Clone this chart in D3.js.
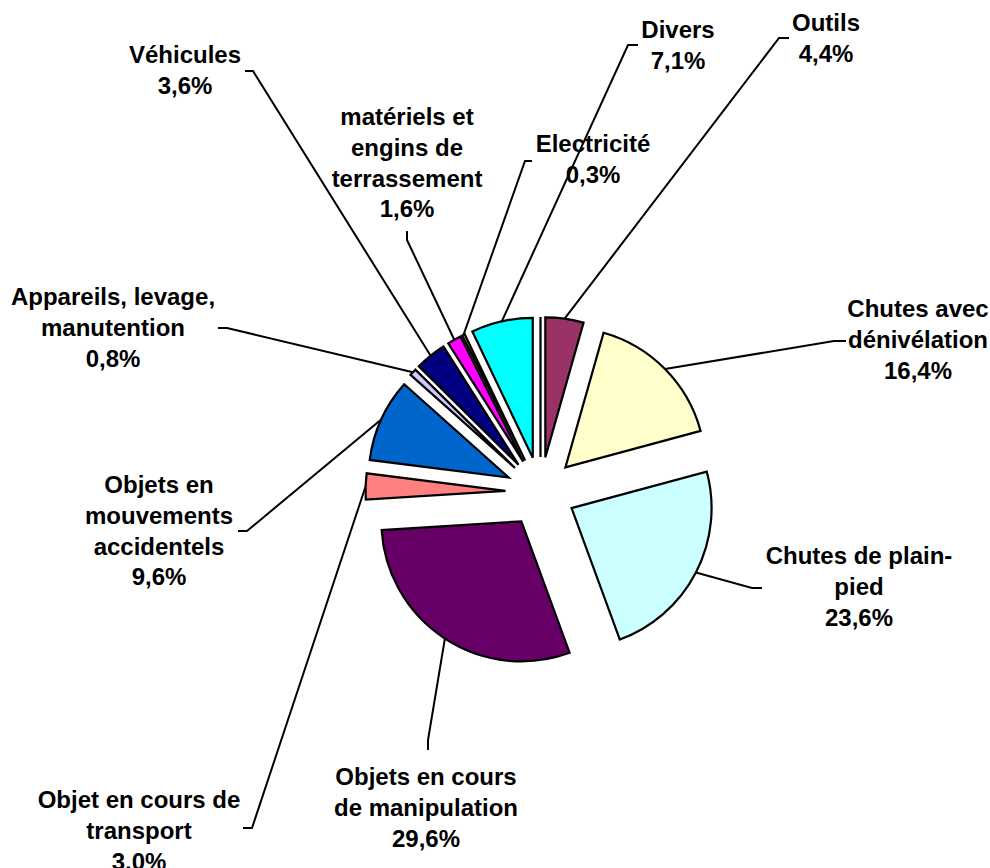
<!DOCTYPE html>
<html>
<head>
<meta charset="utf-8">
<script src="https://cdn.jsdelivr.net/npm/d3@7"></script>
<style>
    body { margin: 0; background: #fff; }
    text { font-family: "Liberation Sans", Arial, sans-serif; font-weight: bold; font-size: 24px; fill: #000; }
</style>
</head>
<body>
<script>
const width = 990,
    height = 868,
    radius = 140,
    explode = 35,
    lineHeight = 30.8;

// clockwise from 12 o'clock; the first one is the empty slice drawn as a line
const categories = [
    '', 'Outils', 'Chutes avec\ndénivélation', 'Chutes de plain-\npied',
    'Objets en cours\nde manipulation', 'Objet en cours de\ntransport',
    'Objets en\nmouvements\naccidentels', 'Appareils, levage,\nmanutention',
    'Véhicules', 'matériels et\nengins de\nterrassement', 'Electricité', 'Divers'
];
const values = [0, 4.4, 16.4, 23.6, 29.6, 3.0, 9.6, 0.8, 3.6, 1.6, 0.3, 7.1];
const colors = [
    '#9999FF', '#993366', '#FFFFCC', '#CCFFFF', '#660066', '#FF8080',
    '#0066CC', '#CCCCFF', '#000080', '#FF00FF', '#FFFF00', '#00FFFF'
];

// label placement: text centre x, first baseline, leader end and elbow
const labelPos = [
    null,
    {x: 826, y: 31, end: [789, 38], elbow: [779, 38]},
    {x: 918, y: 317, end: [846, 341], elbow: [834, 341]},
    {x: 859, y: 564, end: [762, 588], elbow: [752, 588]},
    {x: 426, y: 785, end: [428, 750], elbow: [428, 740]},
    {x: 139, y: 808, end: [243, 828], elbow: [252, 828]},
    {x: 159, y: 493, end: [238, 531], elbow: [247, 531]},
    {x: 113, y: 305, end: [218, 328], elbow: [227, 328]},
    {x: 185, y: 63, end: [245, 71], elbow: [253, 71]},
    {x: 407, y: 125, end: [407, 231], elbow: [407, 240]},
    {x: 593, y: 152, end: [532, 161], elbow: [525, 161]},
    {x: 678, y: 38, end: [638, 45], elbow: [628, 45]}
];

const cx = 540.5,
    cy = 492;

const fmt = v => d3.format('.1f')(v).replace('.', ',') + '%';

const svg = d3.select('body').append('svg')
    .attr('width', width)
    .attr('height', height)
    ;

const pie = d3.pie()
    .sort(null)
    .value(d => d)
    ;

const arc = d3.arc()
    .innerRadius(0)
    .outerRadius(radius)
    ;

const arcs = pie(values);

function midAngle(d) {
    return (d.startAngle + d.endAngle) / 2;
}

function offset(d, r) {
    const a = midAngle(d);
    return [cx + r * Math.sin(a), cy - r * Math.cos(a)];
}

svg.append('g').selectAll('path.slice')
    .data(arcs)
    .enter()
    .append('path')
    .attr('class', 'slice')
    .attr('transform', d => {
        const p = offset(d, explode);
        return 'translate(' + p[0] + ',' + p[1] + ')';
    })
    .attr('d', arc)
    .attr('fill', (d, i) => colors[i])
    .attr('stroke', '#000')
    .attr('stroke-width', 2.2)
    .attr('stroke-linejoin', 'miter')
    ;

const labelled = arcs.map((d, i) => ({arc: d, i: i})).filter(d => labelPos[d.i]);

// leader lines: slice edge at mid angle -> elbow -> label
svg.append('g').selectAll('polyline')
    .data(labelled)
    .enter()
    .append('polyline')
    .attr('points', d => {
        const a = midAngle(d.arc);
        const o = offset(d.arc, explode);
        const p = [o[0] + radius * Math.sin(a), o[1] - radius * Math.cos(a)];
        const l = labelPos[d.i];
        return [p, l.elbow, l.end].map(q => q.join(',')).join(' ');
    })
    .attr('fill', 'none')
    .attr('stroke', '#000')
    .attr('stroke-width', 2)
    ;

const labels = svg.append('g').selectAll('text')
    .data(labelled)
    .enter()
    .append('text')
    .attr('text-anchor', 'middle')
    ;

labels.selectAll('tspan')
    .data(d => categories[d.i].split('\n').concat([fmt(values[d.i])])
        .map((t, k) => ({t: t, k: k, l: labelPos[d.i]})))
    .enter()
    .append('tspan')
    .attr('x', d => d.l.x)
    .attr('y', d => d.l.y + d.k * lineHeight)
    .text(d => d.t)
    ;
</script>
</body>
</html>
